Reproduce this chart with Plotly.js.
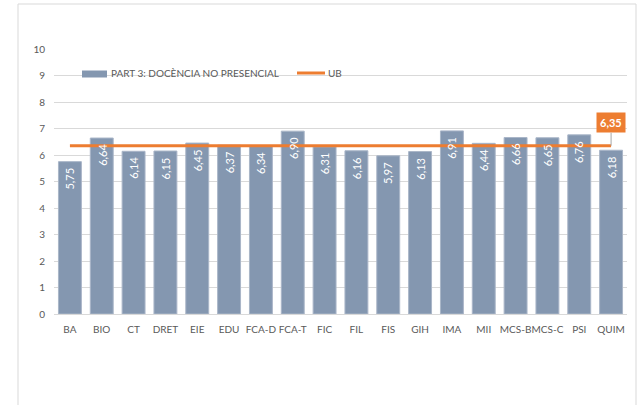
<!DOCTYPE html>
<html>
<head>
<meta charset="utf-8">
<script src="https://cdn.plot.ly/plotly-3.0.1.min.js"></script>
<style>html,body{margin:0;padding:0;background:#fff}#chart{width:641px;height:405px}</style>
</head>
<body>
<div id="chart"></div>
<script>
var categories = ["BA","BIO","CT","DRET","EIE","EDU","FCA-D","FCA-T","FIC","FIL","FIS","GIH","IMA","MII","MCS-B","MCS-C","PSI","QUIM"];
var values = [5.75,6.64,6.14,6.15,6.45,6.37,6.34,6.90,6.31,6.16,5.97,6.13,6.91,6.44,6.66,6.65,6.76,6.18];
var ubValue = 6.35;
var seriesName = "PART 3: DOCÈNCIA NO PRESENCIAL";
var ubName = "UB";

var FONT = "Lato, 'Open Sans', sans-serif";
var barColor = "#8497B0";
var orange = "#ED7D31";

function fmt(v){ return v.toFixed(2).replace('.', ','); }

// plot area in pixels: x 54..627, y 49..314
var L = 54, R = 627, T = 49, B = 314;
function px(x){ return (x - L) / (R - L); }
function py(y){ return (B - y) / (B - T); }

var bars = {
  type: 'bar',
  x: categories,
  y: values,
  name: seriesName,
  marker: {color: barColor, line: {color: '#aab6c8', width: 1}},
  hoverinfo: 'none',
  showlegend: false
};

var ub = {
  type: 'scatter',
  mode: 'lines',
  x: categories,
  y: categories.map(function(){ return ubValue; }),
  name: ubName,
  line: {color: orange, width: 3},
  hoverinfo: 'none',
  showlegend: false
};

var annotations = [
  {xref: 'paper', yref: 'paper', x: px(109), y: py(73), xanchor: 'left', yanchor: 'middle',
   text: seriesName, showarrow: false, font: {family: FONT, size: 10, color: '#595959'}},
  {xref: 'paper', yref: 'paper', x: px(326), y: py(73), xanchor: 'left', yanchor: 'middle',
   text: ubName, showarrow: false, font: {family: FONT, size: 10, color: '#595959'}},
  {x: categories[categories.length - 1], y: ubValue, xref: 'x', yref: 'y',
   text: '<b>' + fmt(ubValue) + '</b>', showarrow: true, arrowhead: 0, arrowwidth: 1,
   arrowcolor: '#a6a6a6', ax: 0, ay: -23, bgcolor: orange, borderpad: 3,
   font: {family: FONT, size: 11, color: '#ffffff'}}
];
// data labels (drawn above the UB line, as in the reference)
categories.forEach(function(c, i){
  annotations.push({
    x: c, y: values[i], xref: 'x', yref: 'y',
    text: fmt(values[i]), showarrow: false, textangle: -90,
    xanchor: 'center', yanchor: 'top', yshift: -5, borderpad: 0,
    font: {family: FONT, size: 11, color: '#ffffff'}
  });
});

var layout = {
  width: 641,
  height: 405,
  margin: {l: L, r: 641 - R, t: T, b: 405 - B, pad: 0},
  paper_bgcolor: '#ffffff',
  plot_bgcolor: '#ffffff',
  font: {family: FONT, size: 10, color: '#595959'},
  bargap: 0.28,
  showlegend: false,
  xaxis: {
    type: 'category',
    showgrid: false,
    showline: true,
    linecolor: '#d9d9d9',
    linewidth: 1,
    ticks: '',
    tickfont: {family: FONT, size: 10, color: '#595959'},
    ticklabelstandoff: 6,
    tickangle: 0,
    fixedrange: true
  },
  yaxis: {
    range: [0, 10],
    dtick: 1,
    showgrid: true,
    gridcolor: '#d9d9d9',
    gridwidth: 1,
    zeroline: false,
    showline: false,
    ticks: '',
    tickfont: {family: FONT, size: 10, color: '#595959'},
    ticklabelstandoff: 8,
    fixedrange: true
  },
  shapes: [
    {type: 'rect', xref: 'paper', yref: 'paper', x0: px(18), x1: px(636), y0: py(420), y1: py(4),
     line: {color: '#d9d9d9', width: 1}, fillcolor: 'rgba(0,0,0,0)', layer: 'below'},
    {type: 'rect', xref: 'paper', yref: 'paper', x0: px(82), x1: px(107), y0: py(77.5), y1: py(70.5),
     line: {width: 0}, fillcolor: barColor},
    {type: 'line', xref: 'paper', yref: 'paper', x0: px(297), x1: px(325), y0: py(73), y1: py(73),
     line: {color: orange, width: 3}}
  ],
  annotations: annotations
};

Plotly.newPlot('chart', [bars, ub], layout, {displayModeBar: false, staticPlot: true});
</script>
</body>
</html>
